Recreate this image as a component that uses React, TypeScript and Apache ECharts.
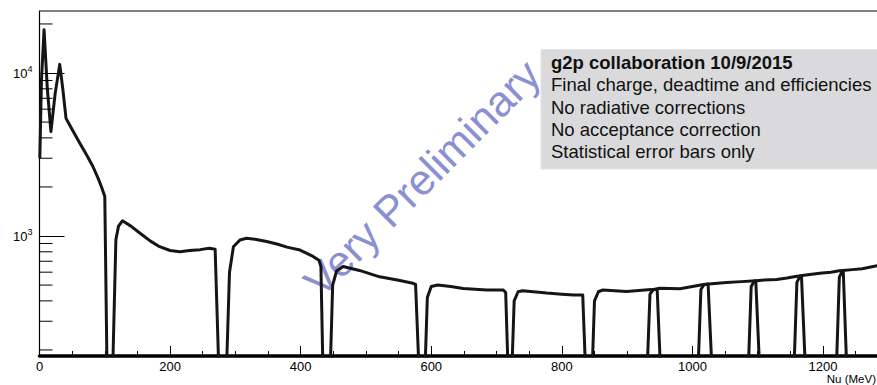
import React, { useEffect, useRef } from "react";
import * as echarts from "echarts";

// Each kinematic setting: [Nu (MeV), counts]; 100 = empty bins (below the log axis floor)
const settingA: [number, number][] = [
  [0.5, 3000], [3, 9000], [7, 18400], [12, 8000], [17.5, 4370], [24, 7500], [31, 11300],
  [36, 7800], [40.6, 5270], [50, 4500], [62, 3700], [72, 3150], [82, 2660], [90, 2250],
  [95, 2000], [100, 1750], [104, 100],
];
const settingB: [number, number][] = [
  [111, 100], [117, 950], [121, 1150], [127, 1240], [140, 1150], [154, 1040], [170, 930],
  [184, 860], [200, 815], [215, 800], [230, 815], [246, 825], [260, 840], [269, 830], [276, 100],
];
const settingC: [number, number][] = [
  [285, 100], [291, 600], [297, 860], [307, 945], [317, 968], [330, 955], [348, 925],
  [365, 890], [379, 855], [399, 820], [419, 750], [428, 710], [431, 650], [435, 100],
];
const settingD: [number, number][] = [
  [444, 100], [449, 500], [455, 610], [465, 650], [490, 615], [521, 562], [550, 535],
  [572, 513], [576, 505], [583, 100],
];
const settingE: [number, number][] = [
  [589, 100], [594, 420], [600, 490], [610, 500], [630, 490], [649, 477], [685, 467],
  [710, 467], [714, 450], [719, 100],
];
const settingF: [number, number][] = [
  [722, 100], [727, 400], [733, 455], [740, 462], [777, 447], [800, 440], [818, 435],
  [832, 435], [838, 100],
];
const settingG: [number, number][] = [
  [845, 100], [850, 400], [856, 455], [863, 467], [899, 457], [932, 468], [946, 472], [953, 100],
];
const settingH: [number, number][] = [
  [929, 100], [935, 440], [940, 468], [950, 478], [981, 475], [1000, 490], [1015, 503],
  [1024, 507], [1032, 100],
];
const settingI: [number, number][] = [
  [1007, 100], [1013, 470], [1018, 505], [1030, 510], [1052, 518], [1075, 525], [1097, 532],
  [1105, 100],
];
const settingJ: [number, number][] = [
  [1084, 100], [1090, 490], [1095, 530], [1110, 537], [1129, 541], [1145, 552], [1160, 566],
  [1167, 568], [1175, 100],
];
const settingK: [number, number][] = [
  [1154, 100], [1160, 520], [1165, 570], [1180, 580], [1195, 591], [1212, 600], [1225, 612],
  [1231, 614], [1238, 100],
];
const settingL: [number, number][] = [
  [1219, 100], [1225, 560], [1230, 614], [1245, 622], [1260, 630], [1275, 648], [1290, 665],
  [1300, 670],
];
const settings = [
  settingA, settingB, settingC, settingD, settingE, settingF,
  settingG, settingH, settingI, settingJ, settingK, settingL,
];

const yMinorTicks = [200, 300, 400, 500, 600, 700, 800, 900, 2000, 3000, 4000, 5000, 6000, 7000, 8000, 9000, 20000];

const noteLines = [
  "g2p collaboration 10/9/2015",
  "Final charge, deadtime and efficiencies",
  "No radiative corrections",
  "No acceptance correction",
  "Statistical error bars only",
];
const watermark = "Very Preliminary";
const xAxisTitle = "Nu (MeV)";

const FONT = '"Liberation Sans", Arial, Helvetica, sans-serif';

export default function App() {
  const ref = useRef<HTMLDivElement>(null);
  useEffect(() => {
    if (!ref.current) return;
    const chart = echarts.init(ref.current, null, { renderer: "svg" });
    const lineSeries = settings.map((s, i) => ({
      type: "line",
      name: "setting" + i,
      data: s,
      showSymbol: false,
      symbol: "none",
      clip: true,
      silent: true,
      z: 5,
      lineStyle: { color: "#151515", width: 3, join: "round" },
    }));
    const option: any = {
      animation: false,
      backgroundColor: "#ffffff",
      grid: {
        left: 39.5,
        top: 11,
        right: -11.3,
        bottom: 29,
        containLabel: false,
        outerBoundsMode: "none",
        show: true,
        borderColor: "#000",
        borderWidth: 1,
        backgroundColor: "transparent",
      },
      xAxis: {
        type: "value",
        min: 0,
        max: 1300,
        interval: 200,
        axisLine: { show: true, lineStyle: { color: "#000", width: 3.5 } },
        axisTick: { show: true, inside: true, length: 10, lineStyle: { color: "#000", width: 1 } },
        minorTick: { show: true, splitNumber: 4, length: 5, lineStyle: { color: "#000", width: 1 } },
        splitLine: { show: false },
        axisLabel: {
          fontFamily: FONT,
          fontSize: 13,
          color: "#000",
          margin: 4,
          showMaxLabel: false,
          formatter: (v: number) => String(v),
        },
      },
      yAxis: {
        type: "log",
        logBase: 10,
        min: 183.6,
        max: 24016,
        axisLine: { show: true, lineStyle: { color: "#000", width: 1.2 } },
        axisTick: { show: true, inside: true, length: 25, lineStyle: { color: "#000", width: 1 } },
        splitLine: { show: false },
        axisLabel: {
          margin: 7,
          showMinLabel: false,
          showMaxLabel: false,
          formatter: (v: number) => {
            const e = Math.log10(v);
            const r = Math.round(e);
            if (Math.abs(e - r) > 1e-6) return "";
            return "{b|10}{s|" + r + "}";
          },
          rich: {
            b: { fontFamily: FONT, fontSize: 13, color: "#000" },
            s: { fontFamily: FONT, fontSize: 9, color: "#000", padding: [0, 0, 9, 0] },
          },
        },
      },
      series: [
        ...lineSeries,
        {
          type: "custom",
          silent: true,
          z: 6,
          clip: false,
          data: yMinorTicks.map((v) => [0, v]),
          renderItem: (params: any, api: any) => {
            const p = api.coord([0, api.value(1)]);
            return {
              type: "line",
              shape: { x1: p[0], y1: p[1], x2: p[0] + 13, y2: p[1] },
              style: { stroke: "#000", lineWidth: 1 },
            };
          },
        },
      ],
      graphic: [
        {
          type: "rect",
          z: 0,
          shape: { x: 541, y: 49.5, width: 360, height: 119.5 },
          style: { fill: "#dadadc", stroke: "#e4e4e6", lineWidth: 1 },
        },
        ...noteLines.map((t, i) => ({
          type: "text",
          z: 1,
          x: 551,
          y: 62.7 + i * 22.25,
          style: {
            text: t,
            font: (i === 0 ? "bold " : "") + "18.5px " + FONT,
            fill: "#111",
            align: "left",
            verticalAlign: "middle",
          },
        })),
        {
          type: "text",
          z: 2,
          x: 422,
          y: 178,
          rotation: Math.PI / 4,
          style: {
            text: watermark,
            font: "43px " + FONT,
            fill: "#8a90d2",
            align: "center",
            verticalAlign: "middle",
          },
        },
        {
          type: "text",
          z: 3,
          x: 876,
          y: 379,
          style: {
            text: xAxisTitle,
            font: "11.5px " + FONT,
            fill: "#000",
            align: "right",
            verticalAlign: "middle",
          },
        },
      ],
    };
    chart.setOption(option);
    return () => chart.dispose();
  }, []);
  return (
    <div
      ref={ref}
      style={{ position: "absolute", left: 0, top: 0, width: 877, height: 385, background: "#fff" }}
    />
  );
}
